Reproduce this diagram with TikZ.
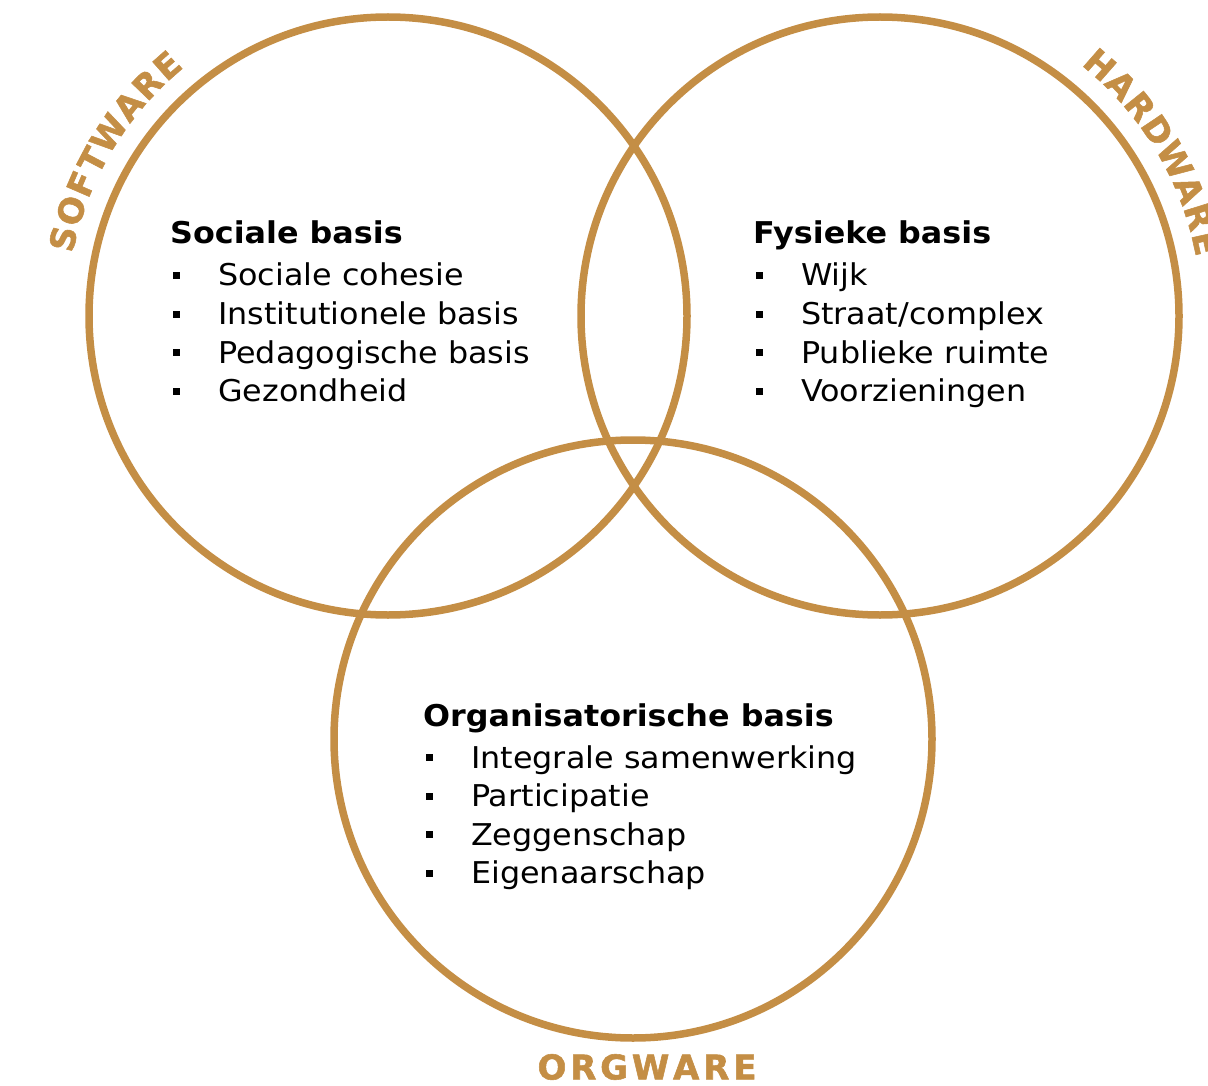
\documentclass[tikz,border=0pt]{standalone}
\usepackage{fontspec}
\setmainfont{DejaVu Sans}[FakeStretch=1.06]
\newfontfamily\arcfont{DejaVu Sans Bold}[FakeBold=1.6]
\definecolor{gold}{RGB}{196,142,69}
\begin{document}
\begin{tikzpicture}[x=1pt,y=1pt,
  ring/.style={draw=gold, line width=7.5pt},
  arcletter/.style={text=gold, font=\arcfont\fontsize{34}{34}\selectfont, inner sep=0pt, anchor=center},
  head/.style={font=\fontsize{30}{36}\selectfont\bfseries, anchor=base west, inner sep=0pt},
  item/.style={font=\fontsize{30}{36}\selectfont, anchor=base west, inner sep=0pt},
  bul/.style={fill=black, draw=none, minimum size=7pt, inner sep=0pt, rectangle}]
\useasboundingbox (0,0) rectangle (1208,-1086);
\clip (0,0) rectangle (1208,-1086);
\coordinate (cL) at (388,-316);
\coordinate (cR) at (880,-316);
\coordinate (cB) at (633,-739);
\draw[ring] (cL) circle[radius=299];
\draw[ring] (cR) circle[radius=299];
\draw[ring] (cB) circle[radius=299];
% curved labels
\foreach \a/\l [count=\i] in {166.6/S,161.6/O,156.7/F,152.2/T,146.8/W,141.0/A,136.1/R,131.4/E}
  \path (cL) ++(\a:334) node[arcletter, rotate=\a-90] (sw\i) {\l};
\foreach \a/\l [count=\i] in {48.8/H,43.74/A,38.84/R,33.78/D,27.91/W,22.19/A,17.29/R,12.59/E}
  \path (cR) ++(\a:334) node[arcletter, rotate=\a-90] (hw\i) {\l};
\foreach \x/\l [count=\i] in {0/O,31.3/R,62.2/G,98.6/W,134.2/A,164.3/R,192.9/E}
  \node[arcletter] (ow\i) at (552+\x,-1067) {\l};
% left column
\node[head] (hL) at (170,-244) {Sociale basis};
\foreach \y/\t [count=\i] in {286/{Sociale cohesie},324.5/{Institutionele basis},363/{Pedagogische basis},401.5/{Gezondheid}}{
  \node[bul] (bL\i) at (176.5,-\y+10.5) {};
  \node[item] (tL\i) at (218,-\y) {\t};
}
% right column
\node[head] (hR) at (753,-244) {Fysieke basis};
\foreach \y/\t [count=\i] in {286/{Wijk},324.5/{Straat/complex},363/{Publieke ruimte},401.5/{Voorzieningen}}{
  \node[bul] (bR\i) at (759.5,-\y+10.5) {};
  \node[item] (tR\i) at (801,-\y) {\t};
}
% bottom column
\node[head] (hB) at (423,-726) {Organisatorische basis};
\foreach \y/\t [count=\i] in {768/{Integrale samenwerking},806.5/{Participatie},845/{Zeggenschap},883.5/{Eigenaarschap}}{
  \node[bul] (bB\i) at (429.5,-\y+10.5) {};
  \node[item] (tB\i) at (471,-\y) {\t};
}
\end{tikzpicture}
\end{document}
